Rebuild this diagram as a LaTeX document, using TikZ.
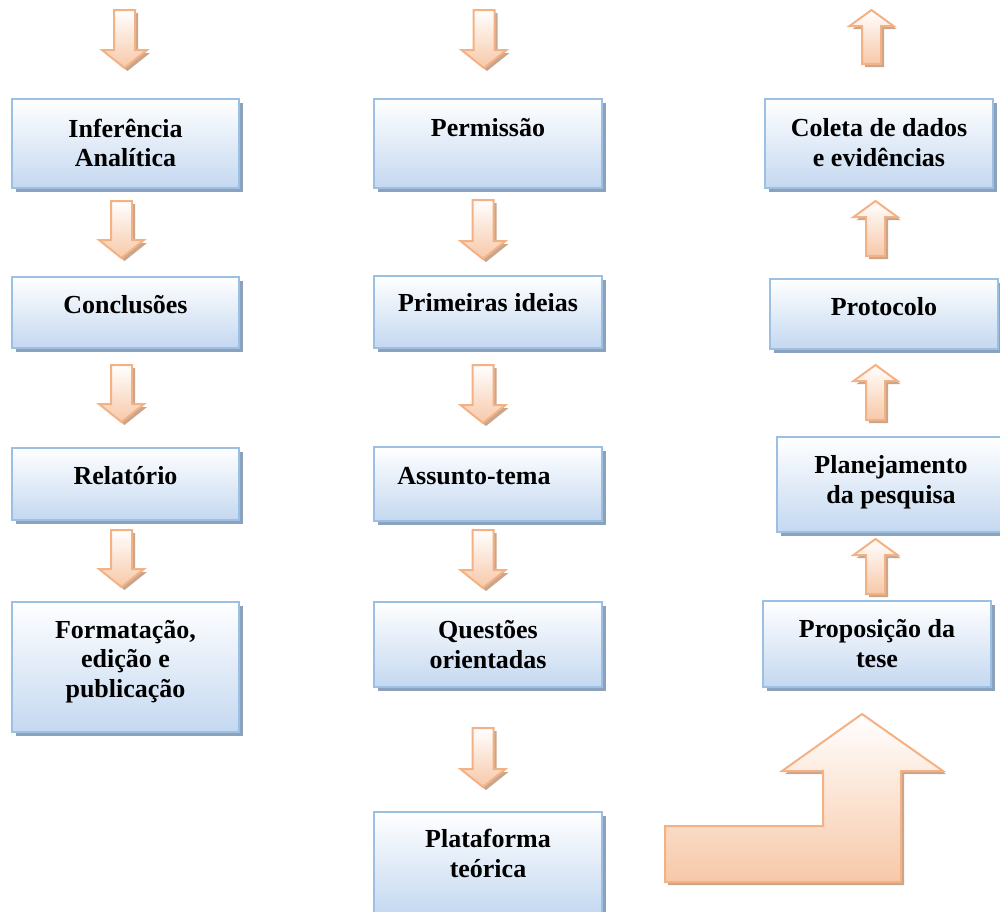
\documentclass[tikz,border=0pt]{standalone}
\usepackage{fontspec}
\setmainfont{Liberation Serif}
\usetikzlibrary{shadows}
\definecolor{boxborder}{RGB}{155,192,228}
\definecolor{boxfill}{RGB}{196,216,240}
\definecolor{boxshadow}{RGB}{140,162,188}
\definecolor{arrborder}{RGB}{244,177,131}
\definecolor{arrfill}{RGB}{247,200,168}
\definecolor{arrshadow}{RGB}{200,166,142}
\tikzset{
  box/.style={draw=boxborder, line width=1.5pt, top color=white, bottom color=boxfill,
    inner sep=0pt, drop shadow={shadow xshift=3pt, shadow yshift=-3pt, fill=boxshadow, opacity=1}},
  txt/.style={font=\fontsize{19.5}{22.1}\selectfont\bfseries, align=center, inner sep=0pt, anchor=base},
  blockarr/.style={draw=arrborder, line width=1.5pt, top color=white, bottom color=arrfill,
    drop shadow={shadow xshift=2.25pt, shadow yshift=-2.25pt, fill=arrshadow, opacity=1}}
}
% down arrow: centre x, top y, tip y
\newcommand\dnarr[3]{%
  \path[blockarr] (#1-10.5,#2) -- (#1+10.5,#2) -- (#1+10.5,#3-18) -- (#1+22.5,#3-18)
    -- (#1,#3) -- (#1-22.5,#3-18) -- (#1-10.5,#3-18) -- cycle;}
% up arrow: centre x, tip y, bottom y
\newcommand\uparr[3]{%
  \path[blockarr] (#1-9.5,#3) -- (#1-9.5,#2+16) -- (#1-22,#2+16) -- (#1,#2)
    -- (#1+22,#2+16) -- (#1+9.5,#2+16) -- (#1+9.5,#3) -- cycle;}
\begin{document}
\begin{tikzpicture}[x=0.75pt,y=-0.75pt]
\useasboundingbox (0,0) rectangle (1000,911);

% ---- column 1
\node[box, minimum width=170.25pt, minimum height=66.75pt] (A1) at (125.5,143.5) {};
\node[box, minimum width=170.25pt, minimum height=53.25pt] (A2) at (125.5,312.5) {};
\node[box, minimum width=170.25pt, minimum height=54pt]    (A3) at (125.5,484) {};
\node[box, minimum width=170.25pt, minimum height=97.5pt]  (A4) at (125.5,667) {};
\node[txt] (tA1) at (125.5,166.5) {Inferência\\Analítica};
\node[txt] (tA2) at (125.5,313) {Conclusões};
\node[txt] (tA3) at (125.5,484) {Relatório};
\node[txt] (tA4) at (125.5,697) {Formatação,\\edição e\\publicação};
\dnarr{124.5}{10}{68}
\dnarr{121.5}{201}{258}
\dnarr{121.5}{365}{422}
\dnarr{121.5}{530}{587}

% ---- column 2
\node[box, minimum width=171pt, minimum height=66.75pt] (B1) at (488,143.5) {};
\node[box, minimum width=171pt, minimum height=54pt]    (B2) at (488,312) {};
\node[box, minimum width=171pt, minimum height=55.5pt]  (B3) at (488,484) {};
\node[box, minimum width=171pt, minimum height=63.75pt] (B4) at (488,644.5) {};
\node[box, minimum width=171pt, minimum height=78pt]    (B5) at (488,864) {};
\node[txt] (tB1) at (488,136) {Permissão};
\node[txt] (tB2) at (488,311) {Primeiras ideias};
\node[txt] (tB3) at (474,484) {Assunto-tema};
\node[txt] (tB4) at (488,668) {Questões\\orientadas};
\node[txt] (tB5) at (488,877) {Plataforma\\teórica};
\dnarr{484}{10}{68}
\dnarr{483}{200}{259}
\dnarr{483}{365}{423}
\dnarr{483}{530}{588}
\dnarr{483}{728}{787}

% ---- column 3
\node[box, minimum width=171pt, minimum height=66.75pt] (C1) at (879,143.5) {};
\node[box, minimum width=171pt, minimum height=52.5pt]  (C2) at (884,314) {};
\node[box, minimum width=171pt, minimum height=71.25pt] (C3) at (891,484.5) {};
\node[box, minimum width=171pt, minimum height=64.5pt]  (C4) at (877,644) {};
\node[txt] (tC1) at (879,166) {Coleta de dados\\e evidências};
\node[txt] (tC2) at (884,315) {Protocolo};
\node[txt] (tC3) at (891,503) {Planejamento\\da pesquisa};
\node[txt] (tC4) at (877,667) {Proposição da\\tese};
\uparr{871.5}{10}{64}
\uparr{875.5}{201}{256}
\uparr{875.5}{365}{420}
\uparr{875.5}{539}{594}

% ---- big bent arrow
\path[blockarr] (665,882) -- (665,826) -- (823,826) -- (823,771) -- (782,771) -- (862,714)
  -- (943,771) -- (901,771) -- (901,882) -- cycle;
\end{tikzpicture}
\end{document}
